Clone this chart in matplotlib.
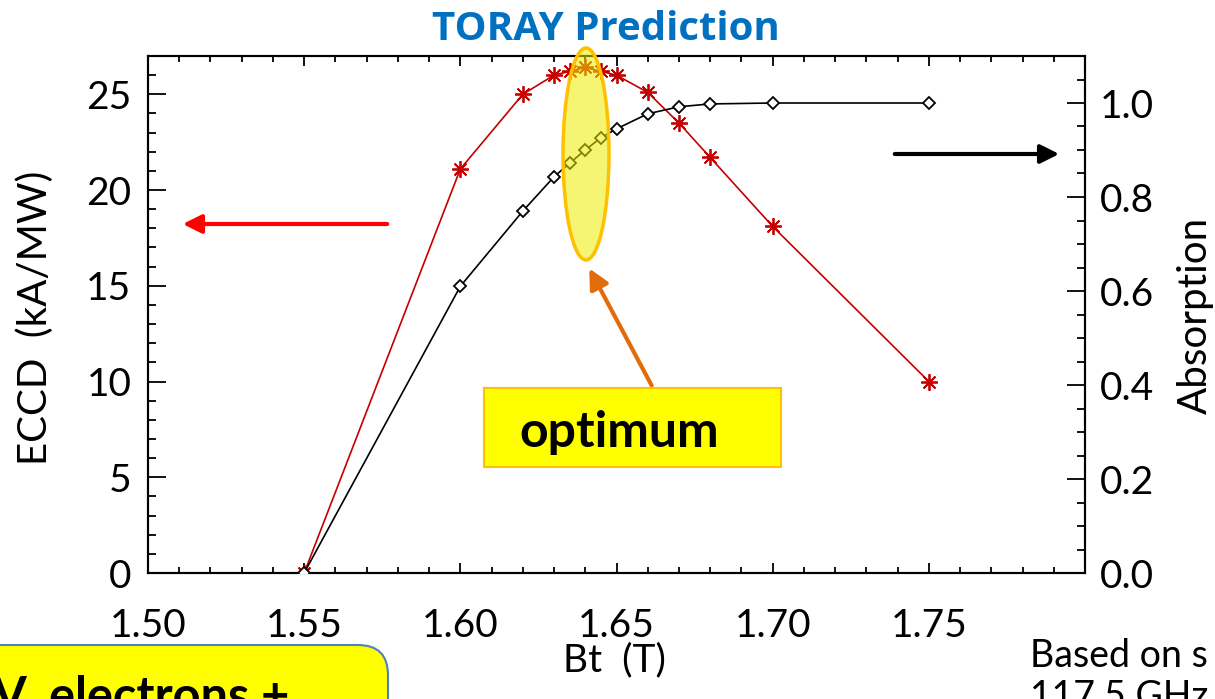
import matplotlib
matplotlib.use("Agg")
import matplotlib.pyplot as plt
import numpy as np
from matplotlib.patches import Ellipse, Rectangle, FancyBboxPatch, FancyArrowPatch
from matplotlib.transforms import Affine2D

# toroidal field scan
bt_eccd = [1.55, 1.60, 1.62, 1.63, 1.635, 1.64, 1.645, 1.65, 1.66, 1.67, 1.68, 1.70, 1.75]
eccd = [0.0, 21.1, 25.0, 26.0, 26.2, 26.4, 26.2, 26.0, 25.1, 23.5, 21.7, 18.1, 10.0]

bt_abs = [1.55, 1.60, 1.62, 1.63, 1.635, 1.64, 1.645, 1.65, 1.66, 1.67, 1.68, 1.70, 1.75]
absorption = [0.0, 0.61, 0.77, 0.843, 0.872, 0.90, 0.926, 0.945, 0.977, 0.992, 0.998, 1.0, 1.0]

xticks = [1.50, 1.55, 1.60, 1.65, 1.70, 1.75]
xticklabels = ["1.50", "1.55", "1.60", "1.65", "1.70", "1.75"]

W, H = 1215, 699
fig = plt.figure(figsize=(W / 100, H / 100), dpi=100)
# pixel coords, origin top-left
pix = Affine2D().scale(1 / W, -1 / H).translate(0, 1) + fig.transFigure

tick_font = "Lato"
red = "#c40000"

ax = fig.add_axes([148 / W, 1 - 573 / H, (1085 - 148) / W, (573 - 56) / H])
ax2 = ax.twinx()

ax.plot(bt_eccd, eccd, color=red, lw=1.2, marker=(8, 2, 0), ms=12, mew=1.3, zorder=3)
ax2.plot(bt_abs, absorption, color="black", lw=1.2, marker="D", ms=6.5, mfc="white",
         mec="black", mew=1.3, zorder=3)

ax.set_xlim(1.50, 1.80)
ax.set_ylim(0, 27)
ax2.set_ylim(0, 1.1)

ax.set_xticks(xticks)
ax.set_xticklabels(xticklabels)
ax.set_xticks(np.arange(1.50, 1.8001, 0.01), minor=True)
ax.set_yticks([0, 5, 10, 15, 20, 25])
ax.set_yticks(np.arange(0, 27.01, 1), minor=True)
ax2.set_yticks([0.0, 0.2, 0.4, 0.6, 0.8, 1.0])
ax2.set_yticklabels(["0.0", "0.2", "0.4", "0.6", "0.8", "1.0"])
ax2.set_yticks(np.arange(0, 1.1001, 0.05), minor=True)

ax.tick_params(axis="x", which="both", direction="in", top=True, bottom=True, width=1.3)
ax.tick_params(axis="x", which="major", length=7.5, pad=25)
ax.tick_params(axis="x", which="minor", length=4)
ax.tick_params(axis="y", which="both", direction="in", left=True, right=False, width=1.3)
ax.tick_params(axis="y", which="major", length=13, pad=12)
ax.tick_params(axis="y", which="minor", length=6)
ax2.tick_params(axis="y", which="both", direction="in", width=1.3)
ax2.tick_params(axis="y", which="major", length=13, pad=11)
ax2.tick_params(axis="y", which="minor", length=6)

for lab in ax.get_xticklabels() + ax.get_yticklabels() + ax2.get_yticklabels():
    lab.set_fontfamily(tick_font)
    lab.set_fontsize(28)

for a in (ax, ax2):
    for s in a.spines.values():
        s.set_linewidth(1.5)

fig.text(606 / W, 1 - 29 / H, "TORAY Prediction", color="#0070c0", fontsize=29,
         fontweight="bold", family="Open Sans", ha="center", va="center")
fig.text(35 / W, 1 - 318 / H, "ECCD  (kA/MW)", rotation=90, fontsize=29,
         family=tick_font, ha="center", va="center")
fig.text(1195 / W, 1 - 315 / H, "Absorption", rotation=90, fontsize=29,
         family=tick_font, ha="center", va="center")
fig.text(614 / W, 1 - 660 / H, "Bt  (T)", fontsize=28,
         family=tick_font, ha="center", va="center")

# arrows pointing to the axes
fig.add_artist(FancyArrowPatch((390, 224), (180, 224), transform=pix, arrowstyle="-|>",
                               mutation_scale=28, lw=3, color="red"))
fig.add_artist(FancyArrowPatch((892, 154), (1062, 154), transform=pix, arrowstyle="-|>",
                               mutation_scale=28, lw=3, color="black"))

# optimum highlight
fig.add_artist(Ellipse((586, 154), 46, 212, transform=pix, facecolor=(0.93, 0.93, 0.0, 0.55),
                       edgecolor="#ffc000", lw=2.5, zorder=5))
fig.add_artist(FancyArrowPatch((653, 388), (588, 266), transform=pix, arrowstyle="-|>",
                               mutation_scale=30, lw=3, color="#e36c0a", zorder=5))
fig.add_artist(Rectangle((484, 388), 297, 79, transform=pix, facecolor="#ffff00",
                         edgecolor="#ffc000", lw=1.5, zorder=6))
fig.text(519 / W, 1 - 447 / H, "optimum", fontsize=36, fontweight="bold", family="Lato",
         ha="left", va="baseline", zorder=7)

# cut-off notes at the bottom
fig.add_artist(FancyBboxPatch((-40, 645), 428, 120, transform=pix,
                              boxstyle="round,pad=0,rounding_size=30",
                              facecolor="#ffff00", edgecolor="#4f81bd", lw=1.5, zorder=6))
fig.text(-8 / W, 1 - 712 / H, "V, electrons +", fontsize=35, fontweight="bold", family="Lato",
         ha="left", va="baseline", zorder=7)
fig.text(1030 / W, 1 - 667 / H, "Based on s", fontsize=27, family=tick_font,
         ha="left", va="baseline")
fig.text(1030 / W, 1 - 708 / H, "117.5 GHz", fontsize=27, family=tick_font,
         ha="left", va="baseline")

fig.savefig("out.png", dpi=100)
